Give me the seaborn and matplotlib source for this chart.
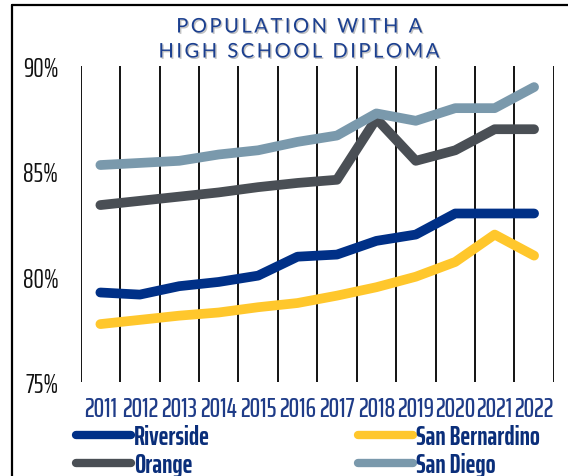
import pandas as pd
import numpy as np
import matplotlib.pyplot as plt
import matplotlib.patheffects as pe
from matplotlib.lines import Line2D
import seaborn as sns

## DATA
years = [2011, 2012, 2013, 2014, 2015, 2016, 2017, 2018, 2019, 2020, 2021, 2022]
riverside = [79.25, 79.15, 79.55, 79.75, 80.05, 80.95, 81.05, 81.7, 82.0, 83.0, 83.0, 83.0]
san_bernardino = [77.75, 77.95, 78.15, 78.3, 78.55, 78.75, 79.1, 79.5, 80.0, 80.7, 82.0, 81.0]
orange = [83.4, 83.6, 83.8, 84.0, 84.25, 84.45, 84.6, 87.5, 85.5, 86.0, 87.0, 87.0]
san_diego = [85.3, 85.4, 85.5, 85.8, 86.0, 86.4, 86.7, 87.75, 87.4, 88.0, 88.0, 89.0]

county_names = ['Riverside', 'San Bernardino', 'Orange', 'San Diego']
county_colors = ['#003087', '#FFC72C', '#4A4F55', '#7A99AC']
y_ticks = [75, 80, 85, 90]

df = pd.DataFrame({
    'year': years * 4,
    'county': np.repeat(county_names, len(years)),
    'value': riverside + san_bernardino + orange + san_diego,
})

## STYLE
sns.set_theme(style='white')
plt.rcParams['font.family'] = ['Saira ExtraCondensed', 'DejaVu Sans']
navy = '#1F3C88'

fig = plt.figure(figsize=(5.68, 4.77), dpi=100)
ax = fig.add_axes([0.142, 0.197, 0.833, 0.6625])

sns.lineplot(data=df, x='year', y='value', hue='county', hue_order=county_names,
             palette=county_colors, linewidth=7, legend=False, ax=ax)
for line in ax.lines:
    line.set_solid_capstyle('round')
    line.set_solid_joinstyle('round')

#### axes
ax.set_xlim(2010.5, 2022.5)
ax.set_ylim(75, 90)
ax.set_xticks(years)
ax.set_xticks(np.arange(2010.5, 2023, 1), minor=True)
ax.set_yticks(y_ticks)
ax.set_yticklabels([f'{v}%' for v in y_ticks])
ax.grid(False)
ax.grid(True, which='minor', axis='x', color='black', linewidth=1.3, zorder=0)
ax.set_axisbelow(True)
ax.tick_params(axis='x', which='major', length=0, pad=10, labelsize=19, labelcolor=navy)
ax.tick_params(axis='x', which='minor', length=0)
ax.tick_params(axis='y', length=0, pad=16, labelsize=19, labelcolor='#111111')
for lbl in ax.get_xticklabels():
    lbl.set_fontweight('medium')
for s in ax.spines.values():
    s.set_visible(False)
ax.set_xlabel('')
ax.set_ylabel('')

#### title
title_lines = ['POPULATION WITH A', 'HIGH SCHOOL DIPLOMA']
for i, t in enumerate(title_lines):
    spaced = '\u200a\u200a'.join(t)
    fig.text(0.527, 1 - (28 + 25 * i) / 477, spaced, ha='center', va='center',
             fontsize=14.5, color='#1B3F8F', family=['Lato', 'DejaVu Sans'],
             path_effects=[pe.withSimplePatchShadow(offset=(1, -1), shadow_rgbFace='#9a9a9a', alpha=0.6)])

#### frame lines
fig.add_artist(Line2D([12 / 568, 12 / 568], [0, 1 - 6 / 477], transform=fig.transFigure, color='black', lw=1.6))
fig.add_artist(Line2D([12 / 568, 1], [1 - 6 / 477, 1 - 6 / 477], transform=fig.transFigure, color='black', lw=1.6))

#### legend
handles = {n: Line2D([], [], color=c, lw=6, solid_capstyle='round') for n, c in zip(county_names, county_colors)}
order = ['Riverside', 'Orange', 'San Bernardino', 'San Diego']
leg = fig.legend([handles[n] for n in order], order, ncol=2, loc='upper left',
                 bbox_to_anchor=(76 / 568, 1 - 425 / 477), frameon=False,
                 borderpad=0, borderaxespad=0, handlelength=2.1, handletextpad=0.1,
                 columnspacing=5.6, labelspacing=0.12, fontsize=19, labelcolor='#0A2E7A')
for t in leg.get_texts():
    t.set_fontweight('bold')

fig.savefig('out.png', dpi=100)
